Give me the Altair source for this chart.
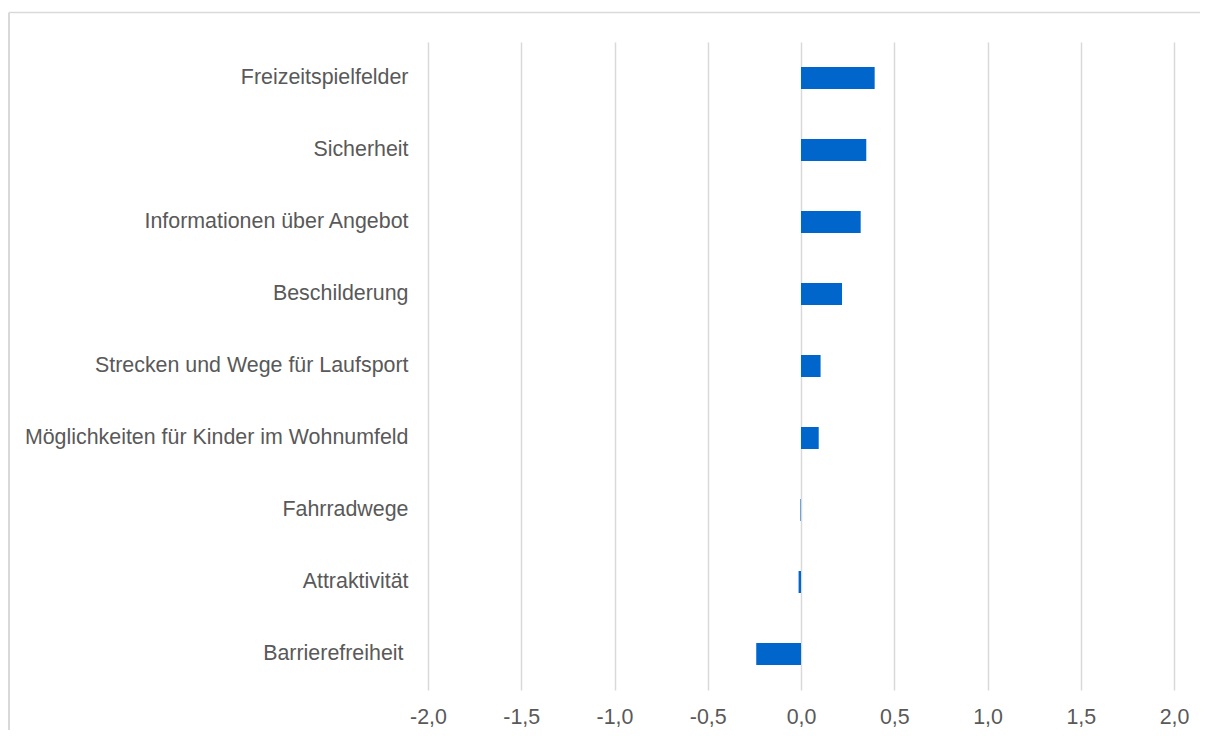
import altair as alt
import pandas as pd

categories = [
    "Freizeitspielfelder",
    "Sicherheit",
    "Informationen über Angebot",
    "Beschilderung",
    "Strecken und Wege für Laufsport",
    "Möglichkeiten für Kinder im Wohnumfeld",
    "Fahrradwege",
    "Attraktivität",
    "Barrierefreiheit",
]
values = [0.395, 0.35, 0.32, 0.22, 0.105, 0.095, -0.003, -0.013, -0.24]
x_ticks = [-2.0, -1.5, -1.0, -0.5, 0.0, 0.5, 1.0, 1.5, 2.0]

df = pd.DataFrame({"Kategorie": categories, "Wert": values})

W, H = 746, 648
PAD_L, PAD_T, PAD_R, PAD_B = 420, 34, 26, 40
TEXT = "#595959"
GRID = "#D9D9D9"
FS = 21.4

label_expr = "replace(replace(format(datum.value, '.1f'), '.', ','), '\u2212', '-')"

bars = alt.Chart(df).mark_bar(color="#0066CC").encode(
    x=alt.X(
        "Wert:Q",
        scale=alt.Scale(domain=[-2, 2], nice=False, zero=False),
        axis=alt.Axis(
            values=x_ticks,
            title=None,
            grid=True,
            gridColor=GRID,
            gridWidth=1.5,
            domain=False,
            ticks=False,
            labelExpr=label_expr,
            labelFlush=False,
            labelFont="Liberation Sans",
            labelFontSize=FS,
            labelColor=TEXT,
            labelPadding=16,
        ),
    ),
    y=alt.Y(
        "Kategorie:N",
        sort=categories,
        scale=alt.Scale(paddingInner=0.694, paddingOuter=0.347),
        axis=alt.Axis(
            title=None,
            domain=False,
            ticks=False,
            grid=False,
            labelFont="Liberation Sans",
            labelFontSize=FS,
            labelColor=TEXT,
            labelPadding={
                "condition": {"test": "datum.value === 'Barrierefreiheit'", "value": 25},
                "value": 20,
            },
            labelLimit=600,
        ),
    ),
)

border_data = alt.Data(values=[{"a": 1}])
top_border = alt.Chart(border_data).mark_rule(color=GRID, strokeWidth=1.5).encode(
    x=alt.value(-419), x2=alt.value(W + PAD_R + 10), y=alt.value(-29.5)
)
left_border = alt.Chart(border_data).mark_rule(color=GRID, strokeWidth=2).encode(
    x=alt.value(-419), y=alt.value(-29.5), y2=alt.value(H + PAD_B + 20)
)

chart = (
    alt.layer(bars, top_border, left_border)
    .properties(
        width=W,
        height=H,
        autosize=alt.AutoSizeParams(type="none"),
        padding={"left": PAD_L, "top": PAD_T, "right": PAD_R, "bottom": PAD_B},
        background="white",
    )
    .configure_view(stroke=None)
)

chart.save("out.html", embed_options={"renderer": "svg", "actions": False})
